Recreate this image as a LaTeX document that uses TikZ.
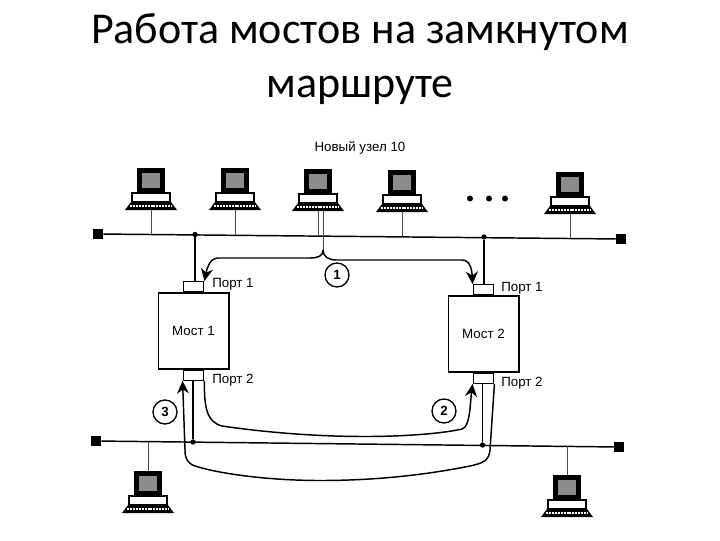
\documentclass[tikz,border=0pt]{standalone}
\usepackage{fontspec}
\setmainfont{Carlito}
\newfontfamily\labelfont{Liberation Sans}
\usetikzlibrary{arrows.meta,positioning,calc}

\tikzset{
  bus/.style={line width=1.1pt},
  wire/.style={line width=0.9pt},
  flow/.style={line width=1.1pt, -{Stealth[length=9.5pt,width=9pt]}},
  cable/.style={line width=0.7pt, black!70},
  terminator/.style={fill=black, inner sep=0pt, minimum size=7.5pt},
  junction/.style={circle, fill=black, inner sep=0pt, minimum size=4pt},
  bridge/.style={draw, line width=1pt, fill=white, inner sep=0pt, minimum width=53pt, minimum height=57pt, font=\labelfont\fontsize{10}{12}\selectfont},
  portbox/.style={draw, line width=0.9pt, fill=white, inner sep=0pt, minimum width=15.5pt, minimum height=7.5pt},
  portlabel/.style={anchor=west, inner sep=0pt, font=\labelfont\fontsize{10}{12}\selectfont},
  stepmark/.style={draw, circle, line width=1pt, inner sep=0pt, minimum size=18pt, font=\labelfont\bfseries\fontsize{10}{12}\selectfont},
  titletext/.style={align=center, font=\fontsize{33}{40.5}\selectfont},
  pics/computer/.style={code={
    \fill[black] (-14,0) rectangle (14,26);
    \fill[black!45] (-9,5) rectangle (9,20);
    \draw[line width=1pt, fill=white] (-19,25) rectangle (19,34);
    \fill[black] (-20,34) -- (20,34) -- (26,42) -- (-26,42) -- cycle;
    \draw[white, line width=1.3pt, dash pattern=on 1.5pt off 0.7pt] (-21,38) -- (21,38);
    \coordinate (-top) at (0,0);
    \coordinate (-base) at (0,42);
    \coordinate (-tap) at (5,42);
  }}
}

\begin{document}
\begin{tikzpicture}[x=0.75pt, y=-0.75pt]
\useasboundingbox (0,0) rectangle (720,540);

\node[titletext] (title) at (360,59) {Работа мостов на замкнутом\\маршруте};
\node[font=\labelfont\fontsize{10}{12}\selectfont] (newnode) at (360,148) {Новый узел 10};

% segments
\node[terminator] (t1) at (98,234) {};
\node[terminator] (t2) at (621,239) {};
\node[terminator] (t3) at (96,441) {};
\node[terminator] (t4) at (619,447) {};
\draw[bus] (t1) -- (t2);
\draw[bus] (t3) -- (t4);

% bridges
\node[bridge] (br1) at (193.5,331) {Мост 1};
\node[bridge] (br2) at (483.5,334) {Мост 2};
\node[portbox] (p1a) [above=0pt of br1] {};
\node[portbox] (p1b) [below=0pt of br1] {};
\node[portbox] (p2a) [above=0pt of br2] {};
\node[portbox] (p2b) [below=0pt of br2] {};
\node[portlabel] (l1a) at (212,284) {Порт 1};
\node[portlabel] (l1b) at (212,380) {Порт 2};
\node[portlabel] (l2a) at (501,288) {Порт 1};
\node[portlabel] (l2b) at (501,383) {Порт 2};

\node[junction] (j1) at (195,234.5) {};
\node[junction] (j2) at (484,237) {};
\node[junction] (j3) at (193,442) {};
\node[junction] (j4) at (482.5,445) {};
\draw[wire] (j1) -- (j1 |- p1a.north);
\draw[wire] (j2) -- (j2 |- p2a.north);
\draw[wire] (j3) -- (j3 |- p1b.south);
\draw[wire] (j4) -- (j4 |- p2b.south);

% stations
\foreach \n/\x/\y/\b in {1/151/168/234.5, 2/235/168/235, 3/318/169/235.5, 4/402/170/236.5, 5/570/172/238}{
  \pic (pc\n) at (\x,\y) {computer};
  \coordinate (tap\n) at (\x,\b);
  \draw[cable] (pc\n-base) -- (tap\n);
}
\foreach \n/\x/\y/\b in {6/148/471/441.5, 7/567/475/446}{
  \pic (pc\n) at (\x,\y) {computer};
  \coordinate (tap\n) at (\x,\b);
  \draw[cable] (pc\n-top) -- (tap\n);
}

\node[circle, fill=black, inner sep=0pt, minimum size=4.5pt] (d1) at (470,198.5) {};
\node[circle, fill=black, inner sep=0pt, minimum size=4.5pt] (d2) at (489,198.5) {};
\node[circle, fill=black, inner sep=0pt, minimum size=4.5pt] (d3) at (505,198.5) {};

% frame paths
\coordinate (fork) at (323,250);
\draw[cable] (pc3-tap) -- (fork);
\draw[flow] (fork) .. controls (323,256) and (318,258) .. (310,258) -- (218,258)
  .. controls (210,258) and (207,268) .. (p1a.north east);
\draw[flow] (fork) .. controls (323,256) and (328,260) .. (336,260) -- (462,260)
  .. controls (471,260) and (472,272) .. (p2a.north west);
\draw[flow] (p1b.south east) .. controls (204,408) and (207,422) .. (222,426)
  .. controls (270,433) and (320,436.5) .. (365,436.5)
  .. controls (400,436.5) and (440,434) .. (462,429)
  .. controls (470,427) and (470,405) .. (p2b.south west);
\draw[flow] (p2b.south east) -- (490,450) .. controls (489,460) and (484,463) .. (470,466)
  .. controls (420,476) and (370,480.5) .. (320,480.5)
  .. controls (270,480.5) and (220,474) .. (195,466)
  .. controls (187,463) and (185,458) .. (185,450) -- (p1b.south west);

\node[stepmark] (s1) at (337,275) {1};
\node[stepmark] (s2) at (444,411) {2};
\node[stepmark] (s3) at (165,412) {3};
\end{tikzpicture}
\end{document}
